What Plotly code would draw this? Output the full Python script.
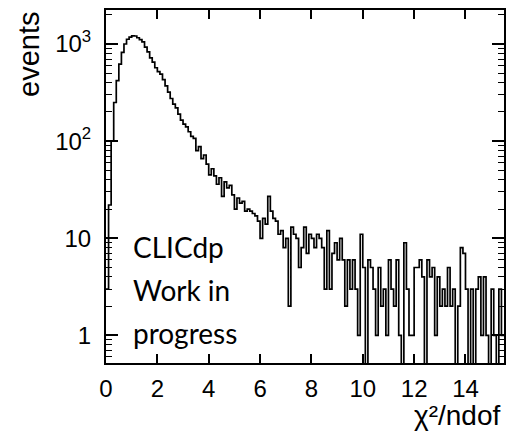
import plotly.graph_objects as go
import numpy as np

# ---- data: chi2/ndof histogram, bin width 0.1, from 0 to 15.5 ----
bin_width = 0.1
x_start = 0.0
counts = [
    3, 22, 100, 250, 420, 620, 820, 1000, 1120, 1180,
    1215, 1210, 1160, 1110, 1050, 930, 830, 720, 650, 570,
    520, 490, 430, 370, 320, 275, 240, 220, 190, 165,
    150, 140, 125, 112, 107, 80, 88, 66, 72, 58,
    45, 52, 44, 36, 42, 27, 38, 33, 35, 28,
    20, 26, 23, 24, 19, 20, 19, 18, 17, 15,
    10, 16, 14, 27, 19, 16, 15, 11, 12, 8,
    10, 2, 13, 11, 10, 5, 8, 13, 7, 11,
    10, 8, 11, 10, 8, 3, 12, 3, 7, 9,
    6, 10, 6, 2, 6, 3, 6, 3, 1, 11,
    5, 0, 6, 5, 3, 1, 5, 2, 3, 1,
    6, 3, 2, 6, 1, 0, 9, 3, 1, 1,
    5, 5, 6, 4, 0, 6, 4, 5, 1, 4,
    2, 3, 2, 5, 2, 3, 0, 2, 8, 7,
    3, 0, 3, 0, 3, 4, 1, 4, 1, 0,
    3, 1, 0, 3, 1,
]
x_ticks = [0, 2, 4, 6, 8, 10, 12, 14]
y_major = [1, 10, 100, 1000]
y_major_text = ["1", "10", "10<sup>2</sup>", "10<sup>3</sup>"]
x_range = [0, 15.5]
y_range = [0.52, 2240]
x_title = "\u03c7\u00b2/ndof"
y_title = "events"
label_lines = ["CLICdp", "Work in", "progress"]

# ---- build step line ----
n = len(counts)
edges = [x_start + i * bin_width for i in range(n + 1)]
floor = 1e-3  # empty bins drop below the visible axis (as in ROOT log view)
yvals = [c if c > 0 else floor for c in counts]
xs = edges
ys = yvals + [yvals[-1]]

fig = go.Figure()
fig.add_trace(go.Scatter(
    x=xs, y=ys, mode="lines", line=dict(color="black", width=1.7, shape="hv"),
    hoverinfo="skip", showlegend=False))

minor_vals = []
for d in [0.1, 1, 10, 100, 1000]:
    for m in range(2, 10):
        v = m * d
        if y_range[0] < v < y_range[1]:
            minor_vals.append(v)

tickfont = dict(family="Liberation Sans, Arial, sans-serif", size=24, color="black")

fig.update_xaxes(
    range=x_range, tickvals=x_ticks, ticktext=[str(t) for t in x_ticks],
    ticks="inside", ticklen=9, tickwidth=1.5, tickcolor="black",
    showline=True, linecolor="black", linewidth=2, mirror="allticks",
    showgrid=False, zeroline=False, tickfont=tickfont, ticklabelstandoff=3)
fig.update_yaxes(
    type="log", range=[np.log10(y_range[0]), np.log10(y_range[1])],
    tickvals=y_major, ticktext=y_major_text,
    ticks="inside", ticklen=12, tickwidth=1.5, tickcolor="black",
    minor=dict(tickvals=minor_vals, ticks="inside", ticklen=6, tickwidth=1.2,
               tickcolor="black", showgrid=False),
    showline=True, linecolor="black", linewidth=2, mirror="allticks",
    showgrid=False, zeroline=False, tickfont=tickfont, ticklabelstandoff=8)

W, H = 507, 433
ml, mr, mt, mb = 106, 1, 10, 70
pw, ph = W - ml - mr, H - mt - mb

def px(x):
    return (x - ml) / pw

def py(y):
    return (H - mb - y) / ph

annots = [
    dict(text=y_title, x=px(28), y=py(10), xanchor="center", yanchor="top",
         textangle=-90, font=dict(family="Liberation Sans, Arial, sans-serif", size=29, color="black")),
    dict(text=x_title, x=px(505), y=py(433), xanchor="right", yanchor="bottom",
         font=dict(family="Liberation Sans, Arial, sans-serif", size=28, color="black")),
]
for i, t in enumerate(label_lines):
    annots.append(dict(text=t, x=px(131), y=py(247 + 43 * i), xanchor="left", yanchor="middle",
                       font=dict(family="Lato, sans-serif", size=28, color="black")))
for a in annots:
    a.update(xref="paper", yref="paper", showarrow=False)

fig.update_layout(
    width=W, height=H, margin=dict(l=ml, r=mr, t=mt, b=mb),
    plot_bgcolor="white", paper_bgcolor="white", annotations=annots,
    showlegend=False)

fig.write_html("out.html")
